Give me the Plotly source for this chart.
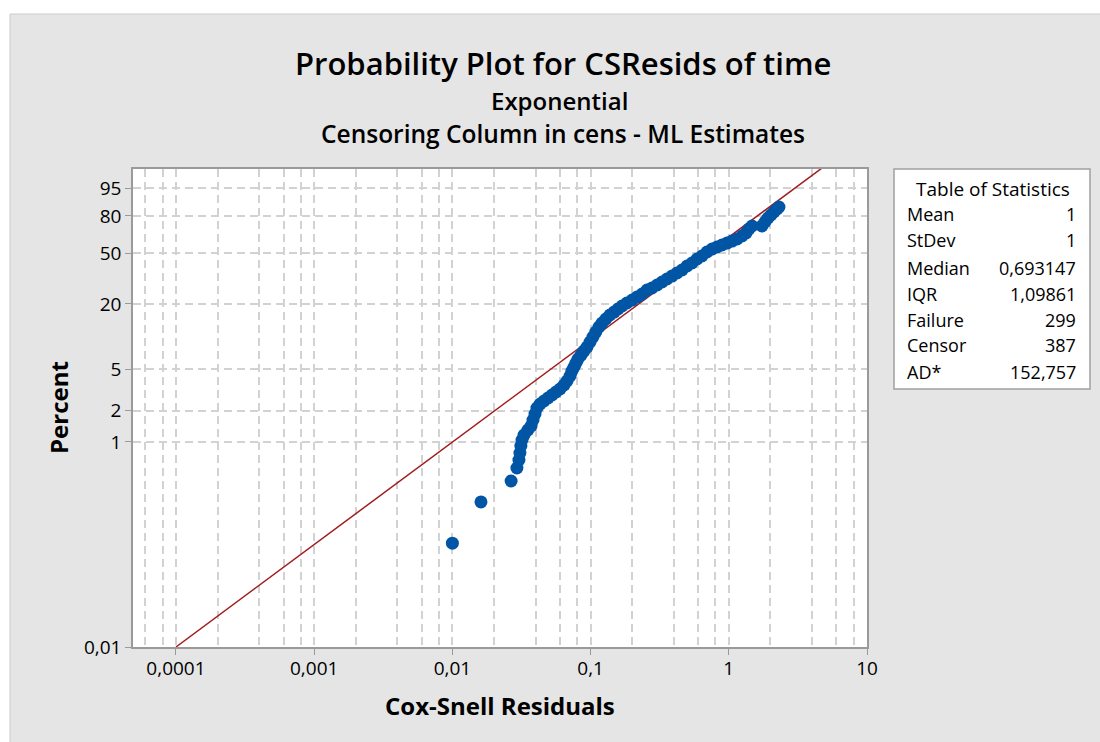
import numpy as np
import plotly.graph_objects as go

# ---------------- data ----------------
resid = [0.0100, 0.0161, 0.0266, 0.0293, 0.0303, 0.0308, 0.0313, 0.0319, 0.0330, 0.0352,
         0.0371, 0.0383, 0.0396, 0.0409, 0.0431, 0.0460, 0.0492, 0.0526, 0.0562, 0.0601,
         0.0643, 0.0675, 0.0710, 0.0733, 0.0759, 0.0784, 0.0811, 0.0853, 0.0895, 0.0942,
         0.0991, 0.104, 0.109, 0.115, 0.121, 0.129, 0.138, 0.148, 0.158, 0.169,
         0.183, 0.200, 0.217, 0.236, 0.256, 0.278, 0.303, 0.329, 0.357, 0.388,
         0.422, 0.459, 0.499, 0.542, 0.589, 0.640, 0.695, 0.757, 0.822, 0.893,
         0.971, 1.054, 1.148, 1.247, 1.334, 1.400, 1.472, 1.738, 1.828, 1.922,
         2.018, 2.123, 2.234, 2.307]
percent = [0.103, 0.260, 0.416, 0.557, 0.666, 0.779, 0.911, 1.042, 1.165, 1.303,
           1.424, 1.628, 1.861, 2.127, 2.324, 2.484, 2.656, 2.839, 3.033, 3.241,
           3.541, 3.866, 4.317, 4.817, 5.258, 5.739, 6.260, 6.827, 7.444, 8.114,
           9.039, 10.06, 11.18, 12.43, 13.51, 14.69, 15.95, 16.96, 18.03, 19.16,
           20.35, 21.60, 22.92, 24.31, 26.27, 27.30, 28.89, 30.56, 32.31, 34.12,
           36.02, 37.98, 40.70, 42.82, 45.76, 48.02, 51.13, 53.50, 55.11, 56.73,
           58.36, 60.00, 61.67, 64.14, 66.61, 69.89, 72.30, 72.30, 75.46, 78.49,
           80.68, 82.78, 84.76, 86.03]

mean_fit = 1.0  # exponential ML estimate (Mean)

x_ticks = [0.0001, 0.001, 0.01, 0.1, 1, 10]
x_ticktext = ["0,0001", "0,001", "0,01", "0,1", "1", "10"]
y_ticks_pct = [0.01, 1, 2, 5, 20, 50, 80, 95]
y_ticktext = ["0,01", "1", "2", "5", "20", "50", "80", "95"]

stat_labels = ["Mean", "StDev", "Median", "IQR", "Failure", "Censor", "AD*"]
stat_values = ["1", "1", "0,693147", "1,09861", "299", "387", "152,757"]

# ---------------- helpers ----------------
def to_axis(p):
    """exponential probability scale: -ln(1-p)"""
    return -np.log(1 - np.asarray(p, dtype=float) / 100.0)

FONT = "Open Sans"
GRID = "#d2d2d2"
AXCOL = "#9a9a9a"
TXT = "#000000"

fig = go.Figure()

# fitted exponential line
line_x = np.logspace(-4, np.log10(6), 60)
line_p = 100 * (1 - np.exp(-line_x / mean_fit))
fig.add_trace(go.Scatter(x=line_x, y=to_axis(line_p), mode="lines",
                         line=dict(color="#a11d1d", width=1.5),
                         hoverinfo="skip", showlegend=False))

# data points
fig.add_trace(go.Scatter(x=resid, y=to_axis(percent), mode="markers",
                         marker=dict(color="#0055a5", size=13, line=dict(width=0)),
                         showlegend=False))

minor_x = [m * 10.0 ** d for d in range(-5, 1) for m in (2, 4, 6, 8)]

fig.update_xaxes(type="log", range=[-4.311, 1.0],
                 tickmode="array", tickvals=x_ticks, ticktext=x_ticktext,
                 ticks="outside", ticklen=6, tickcolor=AXCOL, tickwidth=1,
                 ticklabelstandoff=-3,
                 showline=True, linecolor=AXCOL, linewidth=1.5, mirror=True,
                 showgrid=True, gridcolor=GRID, griddash="8px,5px", gridwidth=1.5,
                 minor=dict(tickmode="array", tickvals=minor_x, showgrid=True,
                            gridcolor=GRID, griddash="8px,5px", gridwidth=1.5, ticks=""),
                 tickfont=dict(family=FONT, size=19, color=TXT),
                 zeroline=False)

fig.update_yaxes(type="log", range=[-4.0, 0.665],
                 tickmode="array", tickvals=list(to_axis(y_ticks_pct)), ticktext=y_ticktext,
                 ticks="outside", ticklen=6, tickcolor=AXCOL, tickwidth=1,
                 showline=True, linecolor=AXCOL, linewidth=1.5, mirror=True,
                 showgrid=True, gridcolor=GRID, griddash="8px,5px", gridwidth=1.5,
                 tickfont=dict(family=FONT, size=19, color=TXT),
                 zeroline=False)

# ---------------- layout geometry ----------------
L, R, T, B = 133, 867, 169, 647
W, H = 1100, 742
def px(xp):
    return (xp - L) / (R - L)
def py(yp):
    return (B - yp) / (B - T)

shapes = [
    dict(type="rect", xref="paper", yref="paper", x0=px(-20), x1=px(1120), y0=py(14), y1=py(-20),
         fillcolor="white", line=dict(width=0), layer="below"),
    dict(type="rect", xref="paper", yref="paper", x0=px(-20), x1=px(10), y0=py(760), y1=py(-20),
         fillcolor="white", line=dict(width=0), layer="below"),
    dict(type="rect", xref="paper", yref="paper", x0=px(10), x1=px(1110), y0=py(760), y1=py(14),
         fillcolor="rgba(0,0,0,0)", line=dict(color="#cccccc", width=1), layer="below"),
    dict(type="rect", xref="paper", yref="paper", x0=px(894), x1=px(1090), y0=py(389), y1=py(169),
         fillcolor="white", line=dict(color="#a0a0a0", width=1.5)),
]

annotations = [
    dict(text="Probability Plot for CSResids of time", x=px(563), y=py(63),
         font=dict(family=FONT, size=31, color=TXT, weight=600)),
    dict(text="Exponential", x=px(559), y=py(101),
         font=dict(family=FONT, size=24, color=TXT, weight=600)),
    dict(text="Censoring Column in cens - ML Estimates", x=px(563), y=py(134),
         font=dict(family=FONT, size=24.5, color=TXT, weight=600)),
    dict(text="<b>Cox-Snell Residuals</b>", x=px(500), y=py(705),
         font=dict(family=FONT, size=24, color=TXT)),
    dict(text="<b>Percent</b>", x=px(58), y=py(408), textangle=-90,
         font=dict(family=FONT, size=24, color=TXT)),
    dict(text="Table of Statistics", x=px(993), y=py(189),
         font=dict(family=FONT, size=19, color=TXT)),
]
for a in annotations:
    a.update(xref="paper", yref="paper", showarrow=False, xanchor="center", yanchor="middle")

row_y = [214, 240, 268, 294, 320, 345, 372]
for lab, val, yy in zip(stat_labels, stat_values, row_y):
    annotations.append(dict(text=lab, x=px(905), y=py(yy), xref="paper", yref="paper",
                            showarrow=False, xanchor="left", yanchor="middle",
                            font=dict(family=FONT, size=18, color=TXT)))
    annotations.append(dict(text=val, x=px(1078), y=py(yy), xref="paper", yref="paper",
                            showarrow=False, xanchor="right", yanchor="middle",
                            font=dict(family=FONT, size=18, color=TXT)))

fig.update_layout(width=W, height=H, autosize=False,
                  margin=dict(l=L, r=W - R, t=T, b=H - B, pad=0),
                  paper_bgcolor="#e5e5e5", plot_bgcolor="white",
                  shapes=shapes, annotations=annotations,
                  font=dict(family=FONT), showlegend=False)

fig.write_html("out.html")
